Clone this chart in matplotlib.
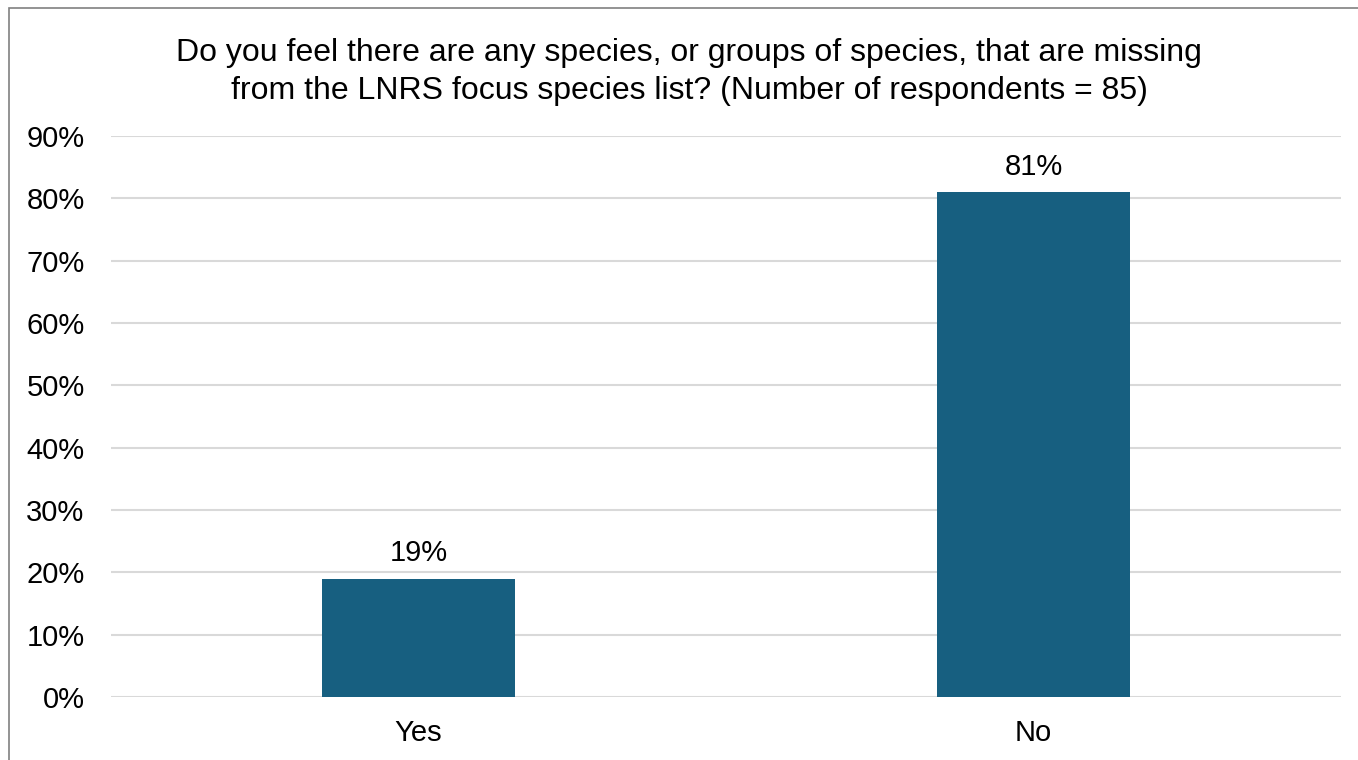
import matplotlib.pyplot as plt
from matplotlib.patches import Rectangle
from matplotlib.ticker import PercentFormatter

# survey answers
categories = ['Yes', 'No']
shares = [0.19, 0.81]
bar_labels = ['19%', '81%']
title = ('Do you feel there are any species, or groups of species, that are missing\n'
         'from the LNRS focus species list? (Number of respondents = 85)')

plt.rcParams['font.family'] = ['Liberation Sans', 'DejaVu Sans']

fig = plt.figure(figsize=(13.58, 7.6), dpi=100)
ax = fig.add_axes([111 / 1358, 1 - 697 / 760, 1230 / 1358, (697 - 136) / 760])

x = range(len(categories))
bars = ax.bar(x, shares, width=0.314, color='#175f80', zorder=3)

ax.set_xlim(-0.5, 1.5)
ax.set_ylim(0, 0.9)
ax.set_yticks([i / 10 for i in range(10)])
ax.yaxis.set_major_formatter(PercentFormatter(1.0, decimals=0))
ax.set_xticks(list(x))
ax.set_xticklabels(categories)
ax.tick_params(axis='y', length=0, pad=19, labelsize=21)
ax.tick_params(axis='x', length=0, pad=16, labelsize=21)
ax.grid(axis='y', color='#d9d9d9', linewidth=1.5, zorder=0)
for s in ax.spines.values():
    s.set_visible(False)

# labels above bars
for b, lab in zip(bars, bar_labels):
    ax.annotate(lab, (b.get_x() + b.get_width() / 2, b.get_height()),
                xytext=(0, 8), textcoords='offset points',
                ha='center', va='bottom', fontsize=21)

fig.text(689 / 1358, 1 - 72 / 760, title, ha='center', va='center',
         fontsize=23, linespacing=1.37)

# chart border (runs off the right and bottom edges)
fig.patches.append(Rectangle((9 / 1358, -0.1), 1.2, 1 - 8 / 760 + 0.1,
                             transform=fig.transFigure, fill=False,
                             edgecolor='#808080', linewidth=1.2))

fig.savefig('out.png', dpi=100)
